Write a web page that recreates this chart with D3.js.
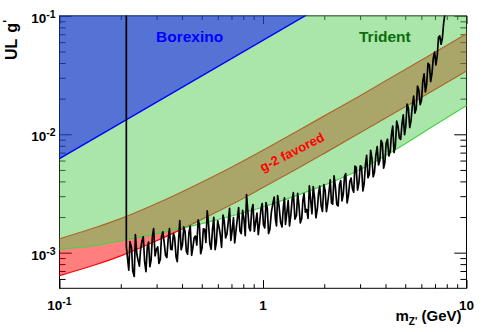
<!DOCTYPE html>
<html>
<head>
<meta charset="utf-8">
<script src="https://cdn.jsdelivr.net/npm/d3@7"></script>
<style>
  html, body { margin: 0; padding: 0; background: #fff; }
  svg { display: block; font-family: "Liberation Sans", Arial, Helvetica, sans-serif; font-weight: bold; }
</style>
</head>
<body>
<div id="chart"></div>
<script>
// couplings are given in units of 1e-3, masses in GeV
const massGrid = [0.1, 0.15, 0.2, 0.3, 0.5, 0.7, 1, 1.5, 2, 3, 5, 7, 10];
const g2Upper = [1.31, 1.63, 1.94, 2.60, 3.94, 5.27, 7.33, 10.8, 14.3, 21.2, 35.3, 49.4, 70.8];
const g2Lower = [0.64, 0.79, 0.94, 1.26, 1.91, 2.55, 3.55, 5.21, 6.90, 10.3, 17.1, 23.9, 34.3];
const tridentLimit = [1.07, 1.15, 1.26, 1.45, 1.76, 2.04, 2.43, 3.09, 3.72, 5.01, 8.32, 12.0, 17.5];

const borexinoMass = [0.1, 10];
const borexinoLimit = [6.22, 622];

// upper limit from the scan (first entry is off scale and gives the vertical edge)
const scanMass = [0.213, 0.213, 0.216, 0.219, 0.222, 0.226, 0.229, 0.233, 0.236, 0.240,
  0.243, 0.247, 0.250, 0.254, 0.258, 0.262, 0.266, 0.270, 0.274, 0.278,
  0.282, 0.286, 0.290, 0.295, 0.299, 0.304, 0.308, 0.313, 0.317, 0.322,
  0.327, 0.332, 0.337, 0.342, 0.347, 0.352, 0.357, 0.363, 0.368, 0.374,
  0.379, 0.385, 0.390, 0.396, 0.402, 0.408, 0.414, 0.420, 0.426, 0.433,
  0.439, 0.446, 0.452, 0.459, 0.466, 0.473, 0.480, 0.487, 0.494, 0.502,
  0.509, 0.517, 0.524, 0.532, 0.540, 0.548, 0.556, 0.565, 0.573, 0.582,
  0.590, 0.599, 0.608, 0.617, 0.626, 0.636, 0.645, 0.655, 0.665, 0.675,
  0.685, 0.695, 0.705, 0.716, 0.726, 0.737, 0.748, 0.759, 0.770, 0.782,
  0.794, 0.806, 0.818, 0.830, 0.842, 0.855, 0.867, 0.880, 0.893, 0.907,
  0.920, 0.934, 0.948, 0.962, 0.976, 0.991, 1.005, 1.02, 1.035, 1.05,
  1.065, 1.08, 1.10, 1.12, 1.135, 1.15, 1.165, 1.18, 1.20, 1.22,
  1.24, 1.26, 1.275, 1.29, 1.31, 1.33, 1.35, 1.37, 1.39, 1.41,
  1.435, 1.46, 1.48, 1.50, 1.525, 1.55, 1.57, 1.59, 1.615, 1.64,
  1.665, 1.69, 1.715, 1.74, 1.765, 1.79, 1.82, 1.85, 1.875, 1.90,
  1.93, 1.96, 1.99, 2.02, 2.05, 2.08, 2.11, 2.14, 2.17, 2.20,
  2.235, 2.27, 2.305, 2.34, 2.375, 2.41, 2.445, 2.48, 2.515, 2.55,
  2.59, 2.63, 2.67, 2.71, 2.75, 2.79, 2.83, 2.87, 2.915, 2.96,
  3.005, 3.05, 3.095, 3.14, 3.185, 3.23, 3.28, 3.33, 3.38, 3.43,
  3.48, 3.53, 3.585, 3.64, 3.695, 3.75, 3.805, 3.86, 3.915, 3.97,
  4.03, 4.09, 4.155, 4.22, 4.28, 4.34, 4.405, 4.47, 4.54, 4.61,
  4.68, 4.75, 4.82, 4.89, 4.96, 5.03, 5.105, 5.18, 5.26, 5.34,
  5.42, 5.50, 5.58, 5.66, 5.745, 5.83, 5.92, 6.01, 6.10, 6.19,
  6.28, 6.37, 6.47, 6.57, 6.665, 6.76, 6.865, 6.97, 7.075, 7.18,
  7.285, 7.39, 7.50, 7.61, 7.725, 7.84];
const scanLimit = [1000, 1.13, 0.89, 0.71, 1.24, 1.10, 0.70, 0.63, 1.42, 0.97,
  0.87, 0.77, 1.04, 1.25, 1.36, 0.84, 0.69, 1.11, 1.23, 0.76,
  0.87, 1.36, 1.60, 0.94, 1.06, 1.12, 0.81, 0.88, 1.37, 1.50,
  1.21, 0.95, 0.91, 1.30, 1.60, 1.07, 1.06, 1.45, 1.34, 0.92,
  0.84, 1.30, 1.87, 1.06, 1.16, 1.65, 1.51, 1.03, 0.97, 1.50,
  1.68, 0.95, 1.10, 1.34, 1.38, 1.16, 1.89, 1.73, 0.98, 1.10,
  1.59, 1.57, 1.22, 2.25, 1.75, 1.18, 1.07, 1.58, 1.99, 1.06,
  1.23, 1.86, 1.64, 1.41, 1.11, 2.08, 1.85, 1.33, 1.44, 1.82,
  2.37, 1.27, 1.53, 1.98, 1.21, 1.54, 1.94, 2.40, 1.53, 1.45,
  2.28, 1.93, 1.39, 3.09, 2.26, 1.62, 1.53, 2.30, 2.55, 1.51,
  1.79, 2.16, 1.42, 1.78, 2.29, 2.60, 1.73, 1.62, 2.65, 2.36,
  1.45, 1.56, 2.21, 2.65, 2.95, 1.94, 1.68, 3.04, 2.45, 1.81,
  1.65, 2.48, 2.90, 1.73, 2.18, 2.77, 1.68, 2.07, 2.79, 3.21,
  1.92, 2.06, 3.17, 2.57, 1.78, 1.94, 2.76, 3.16, 2.20, 2.32,
  1.95, 3.67, 2.77, 2.13, 3.62, 2.98, 1.97, 2.35, 3.20, 3.65,
  2.49, 2.23, 3.76, 3.36, 2.22, 2.63, 3.27, 4.13, 2.63, 2.57,
  4.45, 3.54, 2.54, 2.48, 3.75, 4.07, 2.74, 3.12, 4.41, 4.65,
  2.63, 3.05, 3.99, 4.27, 3.49, 3.24, 5.38, 5.28, 3.37, 3.89,
  5.42, 5.31, 3.32, 3.79, 5.48, 6.63, 4.30, 4.58, 7.31, 6.25,
  4.37, 4.78, 6.63, 7.88, 5.50, 5.99, 8.87, 8.40, 5.18, 5.77,
  8.42, 9.09, 6.56, 7.23, 10.1, 11.7, 7.01, 7.95, 12.9, 11.6,
  9.27, 9.04, 12.3, 14.6, 9.91, 11.6, 18.0, 16.7, 11.4, 13.1,
  17.6, 21.0, 15.1, 16.4, 25.5, 23.7, 17.8, 19.4, 28.2, 32.4,
  22.8, 26.4, 39.7, 38.5, 27.9, 32.3, 43.7, 49.5, 38.5, 45.9,
  66.0, 67.9, 57.6, 64.8, 87.2, 105];

const xMajorTicks = [0.1, 1, 10];
const xMinorTicks = [0.2, 0.3, 0.4, 0.5, 0.6, 0.7, 0.8, 0.9, 2, 3, 4, 5, 6, 7, 8, 9];
const xTickLabels = [["10", "-1"], ["1", ""], ["10", ""]];
const yMajorTicks = [1e-3, 1e-2, 1e-1];
const yMinorTicks = [6e-4, 7e-4, 8e-4, 9e-4, 2e-3, 3e-3, 4e-3, 5e-3, 6e-3, 7e-3, 8e-3, 9e-3,
  0.02, 0.03, 0.04, 0.05, 0.06, 0.07, 0.08, 0.09];
const yTickLabels = [["10", "-3"], ["10", "-2"], ["10", "-1"]];

class LimitPlotRenderer {
  margin = { top: 15.9, right: 24.5, bottom: 43.7, left: 59.5 };
  unit = 1e-3;

  constructor(totalWidth, totalHeight) {
    this.totalWidth = totalWidth;
    this.totalHeight = totalHeight;
    this.width = totalWidth - this.margin.left - this.margin.right;
    this.height = totalHeight - this.margin.top - this.margin.bottom;
  }

  renderGraph(selector) {
    this.drawSvg(selector);
    this.computeScales();
    this.drawAxes();
    this.drawArea();
    this.drawLabels();
  }

  drawSvg(selector) {
    const root = d3.select(selector).append('svg')
      .attr('width', this.totalWidth)
      .attr('height', this.totalHeight);
    root.append('rect').attr('width', this.totalWidth).attr('height', this.totalHeight).attr('fill', '#fff');
    this.svg = root.append('g').attr('transform', `translate(${this.margin.left},${this.margin.top})`);
    this.svg.append('clipPath').attr('id', 'frame-clip')
      .append('rect').attr('x', -0.5).attr('y', -0.5)
      .attr('width', this.width + 1).attr('height', this.height + 1);
  }

  computeScales() {
    this.x = d3.scaleLog().domain([0.1, 10]).range([0, this.width]);
    this.y = d3.scaleLog().domain([5e-4, 0.1]).range([this.height, 0]);
  }

  drawTicks(axis, transform, ticks, len) {
    this.svg.append('g')
      .attr('transform', transform)
      .call(axis.tickValues(ticks).tickSize(-len).tickSizeOuter(0).tickFormat(''))
      .call(g => g.select('.domain').remove())
      .selectAll('line').attr('stroke', '#000');
  }

  drawAxes() {
    const xLen = 0.03 * this.height, yLen = 0.03 * this.width;
    this.drawTicks(d3.axisBottom(this.x), `translate(0,${this.height})`, xMajorTicks, xLen);
    this.drawTicks(d3.axisBottom(this.x), `translate(0,${this.height})`, xMinorTicks, xLen / 2);
    this.drawTicks(d3.axisTop(this.x), 'translate(0,0)', xMajorTicks, xLen);
    this.drawTicks(d3.axisTop(this.x), 'translate(0,0)', xMinorTicks, xLen / 2);
    this.drawTicks(d3.axisLeft(this.y), 'translate(0,0)', yMajorTicks, yLen);
    this.drawTicks(d3.axisLeft(this.y), 'translate(0,0)', yMinorTicks, yLen / 2);
    this.drawTicks(d3.axisRight(this.y), `translate(${this.width},0)`, yMajorTicks, yLen);
    this.drawTicks(d3.axisRight(this.y), `translate(${this.width},0)`, yMinorTicks, yLen / 2);

    this.svg.append('rect')
      .attr('width', this.width).attr('height', this.height)
      .attr('fill', 'none').attr('stroke', '#000').attr('stroke-width', 1);
  }

  drawArea() {
    const x = this.x, y = this.y, u = this.unit;
    const plot = this.svg.append('g').attr('clip-path', 'url(#frame-clip)');
    const grid = massGrid.map((m, i) => ({ m, lo: g2Lower[i] * u, hi: g2Upper[i] * u, tri: tridentLimit[i] * u }));

    // g-2 favoured band
    plot.append('path').datum(grid)
      .attr('fill', 'rgba(255,0,0,0.5)')
      .attr('d', d3.area().x(d => x(d.m)).y0(d => y(d.lo)).y1(d => y(d.hi)).curve(d3.curveMonotoneX));
    ['lo', 'hi'].forEach(k => {
      plot.append('path').datum(grid)
        .attr('fill', 'none').attr('stroke', '#ff0000').attr('stroke-width', 1.2)
        .attr('d', d3.line().x(d => x(d.m)).y(d => y(d[k])).curve(d3.curveMonotoneX));
    });

    // trident exclusion
    plot.append('path').datum(grid)
      .attr('fill', 'rgba(85,205,85,0.5)')
      .attr('d', d3.area().x(d => x(d.m)).y0(-5).y1(d => y(d.tri)).curve(d3.curveMonotoneX));
    plot.append('path').datum(grid)
      .attr('fill', 'none').attr('stroke', '#44d444').attr('stroke-width', 1.2)
      .attr('d', d3.line().x(d => x(d.m)).y(d => y(d.tri)).curve(d3.curveMonotoneX));

    // Borexino exclusion
    const borexino = borexinoMass.map((m, i) => ({ m, g: borexinoLimit[i] * u }));
    plot.append('path').datum(borexino)
      .attr('fill', 'rgba(0,0,255,0.5)')
      .attr('d', d3.area().x(d => x(d.m)).y0(-5).y1(d => y(d.g)));
    plot.append('path').datum(borexino)
      .attr('fill', 'none').attr('stroke', '#0000ff').attr('stroke-width', 1.4)
      .attr('d', d3.line().x(d => x(d.m)).y(d => y(d.g)));

    // scan upper limit
    const scan = scanMass.map((m, i) => ({ m, g: scanLimit[i] * u }));
    plot.append('path').datum(scan)
      .attr('fill', 'none').attr('stroke', '#000').attr('stroke-width', 1.7)
      .attr('stroke-linejoin', 'round')
      .attr('d', d3.line().x(d => x(d.m)).y(d => y(d.g)));
  }

  drawLabels() {
    const x = this.x, y = this.y;

    yMajorTicks.forEach((v, i) => {
      const t = this.svg.append('text')
        .attr('x', -4).attr('y', y(v) + 7)
        .attr('text-anchor', 'end').attr('font-size', 13.5);
      t.append('tspan').text(yTickLabels[i][0]);
      t.append('tspan').attr('dy', -5).attr('font-size', 10.5).text(yTickLabels[i][1]);
    });

    xMajorTicks.forEach((v, i) => {
      const t = this.svg.append('text')
        .attr('x', x(v)).attr('y', this.height + 21.5)
        .attr('text-anchor', 'middle').attr('font-size', 13.5);
      t.append('tspan').text(xTickLabels[i][0]);
      if (xTickLabels[i][1]) t.append('tspan').attr('dy', -5).attr('font-size', 10.5).text(xTickLabels[i][1]);
    });

    // axis titles
    const xt = this.svg.append('text')
      .attr('x', this.width - 5).attr('y', this.height + 33)
      .attr('text-anchor', 'end').attr('font-size', 15);
    xt.append('tspan').text('m');
    xt.append('tspan').attr('dy', 4).attr('font-size', 10).text("Z'");
    xt.append('tspan').attr('dy', -4).text(' (GeV)');

    const yt = this.svg.append('text')
      .attr('transform', `translate(${16.5 - this.margin.left},${20 - this.margin.top}) rotate(-90)`)
      .attr('text-anchor', 'end').attr('font-size', 16);
    yt.append('tspan').text('UL');
    yt.append('tspan').attr('dx', 6).text('g');
    yt.append('tspan').attr('dy', -5).attr('font-size', 12).text("'");

    // region labels
    this.svg.append('text')
      .attr('x', 156 - this.margin.left).attr('y', 42 - this.margin.top)
      .attr('font-size', 15.5).attr('fill', '#0000ff').text('Borexino');
    this.svg.append('text')
      .attr('x', 359 - this.margin.left).attr('y', 42.3 - this.margin.top)
      .attr('font-size', 15.5).attr('fill', '#0b6e0b').text('Trident');
    this.svg.append('text')
      .attr('transform', `translate(${292 - this.margin.left},${152 - this.margin.top}) rotate(-27)`)
      .attr('text-anchor', 'middle').attr('dy', 4.5)
      .attr('font-size', 13).attr('fill', '#ff0000').text('g-2 favored');
  }
}

new LimitPlotRenderer(491, 332).renderGraph('#chart');
</script>
</body>
</html>
